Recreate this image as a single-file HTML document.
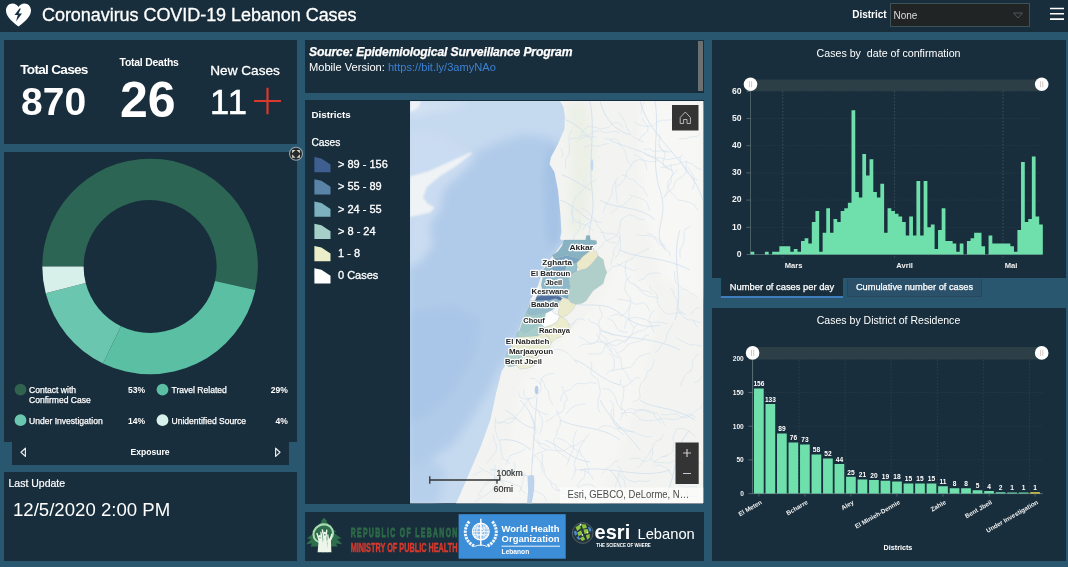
<!DOCTYPE html><html><head><meta charset="utf-8"><title>Coronavirus COVID-19 Lebanon Cases</title><style>

*{box-sizing:border-box;margin:0;padding:0}
html,body{width:1068px;height:567px;overflow:hidden;background:#2a5770;font-family:"Liberation Sans", sans-serif;color:#fff}
.p{position:absolute;background:#192e3c}
.t{position:absolute;white-space:nowrap;line-height:1}
svg{position:absolute;left:0;top:0;overflow:visible}
svg text{font-family:"Liberation Sans", sans-serif}
</style></head><body>
<div class="p" style="left:0px;top:0px;width:1068px;height:32px;"></div>
<div class="p" style="left:4px;top:40px;width:293px;height:104px;"></div>
<div class="p" style="left:4px;top:152px;width:293px;height:290px;"></div>
<div class="p" style="left:12px;top:442px;width:277px;height:22.5px;"></div>
<div class="p" style="left:4px;top:471.5px;width:293px;height:89.0px;"></div>
<div class="p" style="left:304.5px;top:40px;width:399.0px;height:52.5px;"></div>
<div class="p" style="left:304.5px;top:99.5px;width:399.0px;height:404.5px;"></div>
<div class="p" style="left:304.5px;top:512px;width:399.0px;height:48.5px;"></div>
<div class="p" style="left:712px;top:40px;width:353.5px;height:238px;"></div>
<div class="p" style="left:712px;top:307.5px;width:353.5px;height:253.0px;"></div>
<svg width="1068" height="567" viewBox="0 0 1068 567">
<path d="M18.5 26.5 C 10 20, 6 15.5, 6 10.5 C 6 6.3, 9 3.5, 12.5 3.5 C 15 3.5, 17.2 4.8, 18.5 7 C 19.8 4.8, 22 3.5, 24.5 3.5 C 28 3.5, 31 6.3, 31 10.5 C 31 15.5, 27 20, 18.5 26.5 Z" fill="#fff"/>
<path d="M19.5 8.5 L14.5 15 L17.8 15 L16 21.5 L22 13.5 L18.6 13.5 L20.8 8.5 Z" fill="#1a2f3e"/>
<g stroke="#fff" stroke-width="1.6"><path d="M1050 8.5H1064M1050 13.8H1064M1050 19.1H1064"/></g>
</svg>
<div class="t" style="left:42px;top:5.8px;font-size:18px;font-weight:400;color:#fff;-webkit-text-stroke:0.3px #fff;letter-spacing:-0.05px">Coronavirus COVID-19 Lebanon Cases</div>
<div class="t" style="left:852.2px;top:9.9px;font-size:10px;font-weight:700;color:#fff;">District</div>
<div class="p" style="left:889.5px;top:3px;width:140px;height:24px;background:#202425;border:1px solid #3d5158"></div>
<div class="t" style="left:893.5px;top:10.6px;font-size:10px;font-weight:400;color:#dcdcdc;">None</div>
<svg width="1068" height="567" viewBox="0 0 1068 567"><path d="M1013.5 13 L1018 18 L1022.5 13 Z" fill="none" stroke="#4c585d" stroke-width="1"/></svg>
<div class="t" style="left:20.3px;top:63.2px;font-size:13.6px;font-weight:700;color:#fff;letter-spacing:-0.72px">Total Cases</div>
<div class="t" style="left:21px;top:82.2px;font-size:39px;font-weight:700;color:#fff;letter-spacing:0px">870</div>
<div class="t" style="left:119.5px;top:58.4px;font-size:10.4px;font-weight:700;color:#fff;letter-spacing:-0.2px">Total Deaths</div>
<div class="t" style="left:120px;top:74.5px;font-size:50px;font-weight:700;color:#fff;">26</div>
<div class="t" style="left:210.3px;top:64.2px;font-size:13.6px;font-weight:400;color:#fff;-webkit-text-stroke:0.3px #fff">New Cases</div>
<div class="t" style="left:210px;top:84.6px;font-size:34.5px;font-weight:400;color:#fff;-webkit-text-stroke:0.6px #fff;letter-spacing:1.2px">11</div>
<svg width="1068" height="567" viewBox="0 0 1068 567"><path d="M254 101H281M267.5 87.8V114.2" stroke="#d9392d" stroke-width="2.2"/></svg>
<svg width="1068" height="567" viewBox="0 0 1068 567"><path d="M42.30 266.50A107.8 107.8 0 1 1 255.30 290.02L215.00 281.01A66.5 66.5 0 1 0 83.60 266.50Z" fill="#2c6554"/><path d="M255.30 290.02A107.8 107.8 0 0 1 102.98 363.46L121.03 326.31A66.5 66.5 0 0 0 215.00 281.01Z" fill="#5bbfa3"/><path d="M102.98 363.46A107.8 107.8 0 0 1 45.69 293.31L85.69 283.04A66.5 66.5 0 0 0 121.03 326.31Z" fill="#6ac6ae"/><path d="M45.69 293.31A107.8 107.8 0 0 1 42.30 266.50L83.60 266.50A66.5 66.5 0 0 0 85.69 283.04Z" fill="#d8f0ea"/>
<circle cx="20.5" cy="389.6" r="5.9" fill="#31614f"/><circle cx="162.5" cy="389.6" r="5.9" fill="#5bbfa3"/>
<circle cx="20.5" cy="420.2" r="5.9" fill="#6ac6ae"/><circle cx="162.5" cy="420.2" r="5.9" fill="#d8f0ea"/>
<path d="M25.4 448.2V456.4L21 452.3Z M275.6 448.2V456.4L280 452.3Z" fill="none" stroke="#e8e8e8" stroke-width="1.2" stroke-linejoin="round"/>
<circle cx="296" cy="153.8" r="6.5" fill="#26292b" stroke="#93a6b0" stroke-width="1.1"/>
<path d="M292.1 149.9h3.4l-3.4 3.4zM299.9 149.9v3.4l-3.4-3.4zM292.1 157.7v-3.4l3.4 3.4zM299.9 157.7h-3.4l3.4-3.4z" fill="#d9d2c4"/>
</svg>
<div class="t" style="left:29px;top:386.4px;font-size:8.55px;font-weight:400;color:#fff;-webkit-text-stroke:0.25px #fff">Contact with</div>
<div class="t" style="left:29px;top:396.2px;font-size:8.55px;font-weight:400;color:#fff;-webkit-text-stroke:0.25px #fff">Confirmed Case</div>
<div class="t" style="left:145px;top:386.4px;font-size:8.55px;font-weight:700;color:#fff;transform:translateX(-100%);">53%</div>
<div class="t" style="left:171.5px;top:386.4px;font-size:8.55px;font-weight:400;color:#fff;-webkit-text-stroke:0.25px #fff">Travel Related</div>
<div class="t" style="left:287.8px;top:386.4px;font-size:8.55px;font-weight:700;color:#fff;transform:translateX(-100%);">29%</div>
<div class="t" style="left:29px;top:417.3px;font-size:8.55px;font-weight:400;color:#fff;-webkit-text-stroke:0.25px #fff">Under Investigation</div>
<div class="t" style="left:145px;top:417.3px;font-size:8.55px;font-weight:700;color:#fff;transform:translateX(-100%);">14%</div>
<div class="t" style="left:171.5px;top:417.3px;font-size:8.55px;font-weight:400;color:#fff;-webkit-text-stroke:0.25px #fff">Unidentified Source</div>
<div class="t" style="left:287.8px;top:417.3px;font-size:8.55px;font-weight:700;color:#fff;transform:translateX(-100%);">4%</div>
<div class="t" style="left:150px;top:448px;font-size:8.6px;font-weight:700;color:#fff;transform:translateX(-50%);">Exposure</div>
<div class="t" style="left:8.5px;top:478.2px;font-size:10.5px;font-weight:400;color:#fff;-webkit-text-stroke:0.2px #fff">Last Update</div>
<div class="t" style="left:13px;top:501px;font-size:18.6px;font-weight:400;color:#fff;">12/5/2020 2:00 PM</div>
<div class="t" style="left:309px;top:45.6px;font-size:12.15px;font-weight:700;color:#fff;font-style:italic;letter-spacing:-0.15px;-webkit-text-stroke:0.25px #fff">Source: Epidemiological Surveillance Program</div>
<div class="t" style="left:309px;top:61.5px;font-size:11.1px;font-weight:400;color:#fff;">Mobile Version: <span style="color:#3c82d4">https://bit.ly/3amyNAo</span></div>
<div class="p" style="left:697.5px;top:41px;width:5.5px;height:50px;background:#6c7071"></div>
<div class="t" style="left:311.5px;top:109.8px;font-size:9.8px;font-weight:700;color:#fff;">Districts</div>
<div class="t" style="left:311.5px;top:137.8px;font-size:10.2px;font-weight:400;color:#fff;-webkit-text-stroke:0.25px #fff">Cases</div>
<div class="t" style="left:338px;top:159.0px;font-size:11px;font-weight:400;color:#fff;-webkit-text-stroke:0.3px #fff">&gt; 89 - 156</div>
<div class="t" style="left:338px;top:181.25px;font-size:11px;font-weight:400;color:#fff;-webkit-text-stroke:0.3px #fff">&gt; 55 - 89</div>
<div class="t" style="left:338px;top:203.5px;font-size:11px;font-weight:400;color:#fff;-webkit-text-stroke:0.3px #fff">&gt; 24 - 55</div>
<div class="t" style="left:338px;top:225.75px;font-size:11px;font-weight:400;color:#fff;-webkit-text-stroke:0.3px #fff">&gt; 8 - 24</div>
<div class="t" style="left:338px;top:248.0px;font-size:11px;font-weight:400;color:#fff;-webkit-text-stroke:0.3px #fff">1 - 8</div>
<div class="t" style="left:338px;top:270.25px;font-size:11px;font-weight:400;color:#fff;-webkit-text-stroke:0.3px #fff">0 Cases</div>
<svg width="1068" height="567" viewBox="0 0 1068 567"><path d="M314.4 157.0L321.4 158.5L330.5 164.5V172.2H314.4Z" fill="#3f5f90"/><path d="M314.4 179.25L321.4 180.75L330.5 186.75V194.45H314.4Z" fill="#5a83a8"/><path d="M314.4 201.5L321.4 203.0L330.5 209.0V216.7H314.4Z" fill="#7db1bf"/><path d="M314.4 223.75L321.4 225.25L330.5 231.25V238.95H314.4Z" fill="#a6cfc9"/><path d="M314.4 246.0L321.4 247.5L330.5 253.5V261.2H314.4Z" fill="#ebeec8"/><path d="M314.4 268.25L321.4 269.75L330.5 275.75V283.45000000000005H314.4Z" fill="#ffffff"/></svg><svg width="1068" height="567" viewBox="0 0 1068 567"><defs><clipPath id="mc"><rect x="410" y="101" width="293.5" height="402.5"/></clipPath><filter id="bl" x="-10%" y="-10%" width="120%" height="120%"><feGaussianBlur stdDeviation="4"/></filter><filter id="bl3" x="-10%" y="-10%" width="120%" height="120%"><feGaussianBlur stdDeviation="8"/></filter><filter id="bl2" x="-10%" y="-10%" width="120%" height="120%"><feGaussianBlur stdDeviation="0.9"/></filter></defs><g clip-path="url(#mc)">
<rect x="410" y="101" width="293.5" height="402.5" fill="#c5d9ef"/>
<g filter="url(#bl)">
<path d="M473.3 154.4L499.7 142.1L524.4 135.0L549.1 138.6L563.2 145.6L563.2 239.1L556.1 253.2L549.1 267.3L542.0 298.0L532.8 309.0L521.8 327.4L514.4 342.0L507.1 356.7L499.7 367.7L486.9 393.4L470.4 419.1L452.0 444.8L430.0 459.5L408.0 470.5L408.0 219.7L432.7 214.4L436.2 205.6L429.2 200.3L434.5 189.7L446.8 179.1L460.9 166.8Z" fill="#b0cbe9"/>
<path d="M547.3 150.9L563.2 147.4L563.2 239.1L550.9 249.7L547.3 232.0L544.9 203.8L543.8 175.6Z" fill="#a4c2e5"/>
<path d="M408.0 312.7L452.0 305.3L481.4 320.0L474.1 356.7L452.0 393.4L422.7 419.1L408.0 422.8Z" fill="#a9c6e8"/>
<path d="M408.0 225.0L429.2 221.5L432.7 246.1L418.6 263.8L408.0 267.3Z" fill="#c9dcf1"/>
<path d="M408.0 470.5L430.0 459.5L444.7 470.5L437.4 503.5L408.0 503.5Z" fill="#b6cfeb"/>
<path d="M408.0 133.3L429.2 129.7L450.3 140.3L468.0 150.9L475.0 159.7L460.9 173.8L443.3 189.7L439.7 210.9L429.2 225.0L408.0 228.5Z" fill="#cadcf1"/>
</g>
<path d="M410 101H470L455 108L432 112L410 118Z" fill="#d3e2f3" filter="url(#bl)"/>
<path d="M410 101H421L419 107L413 111L410 112Z" fill="#eef3f8" filter="url(#bl2)"/>
<path d="M410 176.5L429.2 171L450.3 161.5L471.5 152L471.8 153.6L456.7 165.7L439.7 176.3L427 186.9L423 197.5L428 204L434.5 207.5L430 212.6L413.3 216.2L410 217Z" fill="#f0f3f5" filter="url(#bl2)"/>
<path d="M560.0 101.0L563.5 107.0L565.0 116.7L564.5 129.0L558.0 144.0L551.0 157.0L549.5 164.0L554.4 172.0L558.0 190.0L560.4 214.4L561.5 232.0L560.0 239.0L564.0 241.0L553.0 256.0L544.1 266.0L541.0 277.0L536.0 291.0L530.0 300.0L527.0 312.0L521.4 322.0L517.0 337.0L509.0 351.0L505.0 366.0L501.6 371.4L499.5 380.0L496.0 393.4L490.6 419.0L481.4 444.8L470.4 470.5L459.4 496.0L456.0 503.5L703.5 503.5L703.5 101.0Z" fill="#f3f4f1"/>
<g filter="url(#bl)" opacity="0.7"><path d="M568 104L586 101L594 150L590 200L580 236L568 232L572 160Z" fill="#e8eee2"/><path d="M520 380L560 340L600 300L620 250L660 300L640 400L600 503L500 503Z" fill="#f7f7f5"/><path d="M640 101H703V300L660 280L640 200Z" fill="#f8f8f7"/></g>
<g fill="none" stroke="#c5d8ec" stroke-width="0.6"><path d="M590 101C596 130 588 160 592 190S586 225 590 245"/><path d="M640 101C650 140 690 160 703 200"/><path d="M610 140C630 150 650 150 670 170"/><path d="M600 330C620 340 650 335 680 350"/><path d="M537 397C535 420 533 450 531 480"/><path d="M560 420C580 430 600 425 620 440"/><path d="M580 470C610 465 640 480 670 470"/><path d="M620 250C640 260 660 255 690 270"/><path d="M575 360C590 365 600 380 620 385"/><path d="M500 440C515 438 525 445 531 450"/><path d="M640 400C655 410 670 405 695 420"/><path d="M600 200C615 210 640 205 655 220"/><path d="M566 120C580 125 585 135 592 140"/><path d="M560 200C575 205 580 215 590 220"/><path d="M562 175C572 178 580 185 591 190"/><path d="M600 101C605 120 615 130 630 135"/><path d="M655 101C660 130 650 160 660 190S650 230 665 250"/><path d="M680 230C670 260 685 290 675 320"/><path d="M560 300C580 310 600 300 615 310S640 330 660 325"/><path d="M520 400C530 410 535 420 534 430"/><path d="M545 440C560 445 570 460 590 462"/><path d="M600 400C610 420 625 430 640 450"/><path d="M690 430C670 450 680 480 660 503"/><path d="M610 470C620 480 625 495 620 503"/><path d="M505 410C515 415 520 425 533 428"/><path d="M490 470C505 468 515 475 530 476"/></g>
<path d="M619.7 132.7L613.5 131.4L608.9 132.3L605.7 133.2L600.8 130.8L595.5 131.3L591.0 133.2L586.9 136.4L582.1 138.2L578.8 139.8M633.8 327.5L631.2 323.9L629.1 320.1L628.9 316.2L629.3 309.7L630.8 303.3L630.1 297.3L627.2 294.8L624.8 289.9L625.4 284.1L626.7 279.5L631.3 275.8M622.8 128.0L620.2 123.4L615.5 122.3L612.4 123.7L609.5 126.9L606.3 128.0L599.8 129.1L595.9 127.5L589.5 126.5L586.0 127.9L582.3 131.4L580.8 135.5M554.9 328.3L561.0 325.9L566.2 325.4L571.0 324.3L576.4 321.3M593.4 479.8L591.6 476.4L588.9 472.9L582.9 470.4L578.2 469.4L574.0 470.4M660.6 167.9L665.5 166.9L672.1 164.9L676.1 164.7L681.5 162.3L685.8 161.8L692.3 163.9L696.9 168.0L701.6 169.6M529.6 378.2L535.4 378.9L537.7 381.4L540.8 384.9L541.4 387.9L539.4 392.9L536.6 395.6L533.1 397.8L528.0 399.2L522.2 398.3L519.4 396.5L518.3 391.4M577.0 363.7L574.4 359.6L571.6 356.9L567.4 353.0L561.8 349.9L557.8 349.4L552.6 350.3L549.3 352.7L545.2 355.5L540.5 355.5L535.4 355.5L531.7 357.8M636.8 324.4L634.2 327.7L632.1 333.0L629.4 338.2L625.2 340.6L620.6 343.1L616.2 345.6L610.4 344.9L607.4 341.5L605.9 338.0L602.6 335.6L599.6 333.2M650.3 459.2L656.1 462.3L662.9 462.7L669.9 463.1L674.2 461.0L677.2 458.5L680.1 456.8L683.0 455.1L687.9 454.3L693.4 457.3M567.1 464.9L568.6 460.1L569.9 456.1L572.3 451.2L573.5 448.1L573.8 444.2L572.9 441.3L574.8 435.2L576.5 430.3M685.8 487.8L687.2 491.8L687.1 496.8L688.9 499.6M596.7 179.0L592.0 182.1L587.2 185.1L582.8 189.6L579.0 194.3L575.6 197.2L574.9 200.4L572.8 203.6L573.0 210.0L572.2 213.9L572.6 217.5L573.2 224.3M693.7 320.6L695.3 324.6L698.7 327.6M657.9 161.0L653.7 161.5L648.6 161.5L642.9 160.1L638.6 159.6L633.2 161.9L630.2 167.7L626.4 172.6L625.5 177.5L621.8 182.5L617.2 186.7M629.5 195.1L635.8 196.8L638.8 197.7L642.6 199.2L645.7 201.2L647.9 205.1L649.6 210.9M664.6 197.0L667.1 192.3L668.2 186.7L671.2 182.1L671.2 178.1L672.6 173.1L671.5 169.3L670.8 163.6M578.8 218.7L580.5 224.8L579.9 228.1L577.8 231.9L574.2 235.1L573.5 240.0L570.7 242.8M637.3 268.8L634.4 270.6L631.0 269.4L625.1 267.6L620.7 265.5L616.6 263.6M493.4 434.5L493.9 439.5L496.3 445.3L496.4 450.8L492.9 455.2L490.5 459.1L486.2 463.0M683.2 154.4L679.6 157.2L675.1 158.2L669.7 159.2L666.4 159.6L661.5 158.0L655.5 157.5L651.6 156.8L647.5 155.7L644.5 153.7M670.2 255.6L669.4 252.4L666.0 249.4L663.4 243.7L660.2 241.2L656.0 237.8L652.6 235.2L647.1 232.9M578.9 336.5L584.4 339.4L588.4 342.7L592.0 343.9L597.9 341.7L604.4 342.1L607.0 343.8L609.7 347.0L611.4 351.9L613.9 355.0L618.2 357.9M530.0 417.0L533.1 419.8L534.7 424.5L535.7 428.9L536.0 432.7L533.8 435.7L533.6 440.2L533.4 446.0L534.2 449.0M537.2 438.7L539.2 444.2L542.1 448.1L548.4 450.2L552.3 450.1L558.9 450.8L562.7 451.2L565.6 449.9L571.1 446.2L577.9 444.5L581.2 441.2L584.3 440.4M550.8 482.4L555.8 484.8L557.5 489.8L561.8 492.6L567.3 494.3L570.7 497.1L574.9 499.1L577.0 501.9M689.4 121.3L691.6 116.3L695.7 111.1L696.3 107.7L698.2 102.1M539.8 378.1L543.0 381.0L544.5 384.4L544.9 387.6L548.5 390.7L549.2 397.6L550.5 400.7L552.9 405.1M612.7 370.9L614.2 367.1L614.4 363.1L614.3 359.1L612.1 355.6L608.9 353.3M591.1 361.3L591.9 366.0L590.7 372.5L592.5 375.7L597.8 379.1L599.0 385.3L600.4 391.0L599.5 396.2L597.9 400.2L598.1 404.2L597.7 408.0L600.1 412.7M516.8 418.9L510.7 418.0L505.8 419.7L502.1 422.7L497.6 423.4M654.5 359.2L653.1 365.1L650.9 369.4L647.1 371.7L646.0 377.1L643.6 381.0L640.7 383.9L639.2 390.3L640.3 396.3L638.8 399.6L632.9 402.1M482.3 470.8L476.7 473.4L473.1 475.1M504.4 488.4L503.2 482.5L498.3 480.3L494.8 476.2L490.8 473.4L485.8 471.3L482.9 469.3L479.2 467.2M649.4 285.5L651.2 289.2L655.5 292.8L657.2 295.8L657.0 301.7L660.1 307.3L662.1 310.2L666.5 313.6L670.1 314.2L676.2 312.8L682.0 313.0L686.8 315.0M544.5 347.0L546.8 341.0L547.0 336.0L546.5 332.3L542.3 327.8L541.9 321.7L538.8 317.3L534.0 313.8M698.4 353.4L694.6 357.8L692.3 362.3L692.8 365.5L691.3 370.6L686.6 373.4L684.5 375.6L682.9 380.1L680.8 383.5L681.2 386.6M632.7 282.5L636.4 286.2L639.0 289.3L642.4 292.8L648.0 296.1L654.4 296.9L658.8 298.1M686.4 160.3L686.0 164.5L686.5 171.0L685.1 174.0L681.1 177.6L676.9 179.5L675.0 182.3L673.4 187.8L669.4 190.8L665.9 194.9L662.8 198.5M692.0 189.9L694.3 184.0L694.1 177.3L691.9 172.6L688.0 167.3M695.8 437.2L691.4 433.1L686.6 430.0L682.9 428.2L676.5 429.0L674.4 434.3L672.8 437.1L673.9 442.6L673.5 445.8L672.5 451.9L668.5 454.5L662.4 457.2M665.0 425.6L662.5 421.1L660.3 417.4L656.9 413.2L650.9 412.8L646.0 410.8L640.0 410.0L635.6 411.7L633.0 414.6M634.3 431.8L631.3 431.8L624.9 430.7L620.2 428.5L615.3 428.9L611.5 426.3L607.7 425.9L604.2 425.4L598.9 428.2M651.0 352.7L644.7 354.5L639.6 356.3L636.0 359.6L633.2 364.6L630.2 367.4L624.9 368.2L619.9 369.2L614.8 370.1L609.3 371.2L605.8 374.6M630.2 305.1L627.4 310.4L625.0 313.8L621.3 316.2L617.8 314.4L614.2 314.7L610.3 316.3M495.1 464.9L494.7 471.3L494.5 478.2L495.2 482.1L494.9 486.1L491.6 490.5L487.0 494.4L481.5 497.4L478.0 498.9L475.3 502.2M562.0 386.2L563.8 391.5L566.9 396.9L567.1 399.9L564.3 403.0L564.0 408.9L561.5 412.2L557.0 413.6L554.2 416.0L550.5 419.3L545.0 421.6M588.2 473.3L588.4 468.8L586.7 463.2L584.6 458.2L581.3 455.4L579.3 448.7L581.0 445.3L583.7 441.7L586.5 436.7L589.5 433.5M661.1 418.9L655.6 420.0L649.6 420.9L643.8 420.5L639.1 418.6L635.8 414.8L631.5 412.3L624.9 412.6L620.7 413.9M599.9 232.6L602.9 232.1L607.9 233.8L611.5 233.4L615.7 234.5L619.7 237.2L620.6 243.3L620.2 249.4L618.3 254.3L615.0 258.3M673.0 323.8L670.5 328.3L667.1 333.3L666.5 338.6L664.8 342.4L661.3 345.3L658.1 350.6L655.1 353.1M618.7 112.1L621.2 115.4L622.9 118.8L624.9 121.6L626.6 127.2L628.6 131.2L630.6 133.9L633.9 137.3L639.9 140.5L643.6 141.9M634.0 154.5L637.1 155.8L640.8 158.1L643.5 159.8L646.1 164.8L646.7 170.2M611.8 352.2L608.0 348.6L606.8 345.2L601.6 341.7L598.4 337.3L596.3 333.6M617.6 473.8L621.9 477.2L624.1 480.0L625.4 486.8L625.5 492.9M596.2 136.8L591.5 136.8L584.8 135.3L581.3 136.1L576.6 138.2L570.0 138.8M644.7 220.1L638.2 218.9L634.8 216.4L629.5 214.7L625.4 216.5L620.8 220.0L620.1 225.2L619.5 228.7L617.4 233.6L614.4 237.1L608.4 240.0L604.6 241.2M694.0 382.5L699.0 380.8L702.1 376.2M556.5 409.5L557.7 413.2L560.3 418.7L560.2 425.0L557.3 429.7L556.3 435.9L553.7 439.9L554.5 446.0L557.9 451.6L562.3 454.9L565.6 457.0L569.4 460.8M647.6 196.2L645.0 192.0L643.5 188.5L639.2 185.6L636.0 181.9L633.0 179.8L629.6 179.0L626.5 176.2L621.6 175.2M477.7 496.2L480.6 491.8L482.4 487.7L485.8 484.9L489.7 482.1L492.3 480.4L496.5 476.9L502.8 475.1L509.5 474.6L512.9 472.2L515.0 467.4L514.3 462.9M524.1 389.4L523.7 394.6L527.1 398.0L530.0 403.3L531.7 407.0L535.3 409.0L539.6 411.5L543.6 413.4L548.0 414.6M655.7 466.1L659.3 464.9L663.0 466.4L667.9 468.8L670.6 473.0L672.8 477.3L676.6 481.2L678.3 484.7L683.5 487.1L689.9 487.0L693.5 486.5L697.6 487.7M582.9 230.0L585.3 225.0L590.4 221.7L593.8 220.4L598.1 222.1L602.0 222.4M565.6 168.2L565.7 163.5L565.9 158.7L568.7 154.9L569.5 150.4L569.2 144.1L569.0 140.4L569.7 133.8L572.1 130.5M614.5 180.1L616.0 184.6L615.8 190.8L616.8 197.2L617.3 203.7M579.6 449.3L578.3 452.4L575.9 458.1L574.1 464.8L575.5 468.5L574.6 474.6L571.4 479.8M638.1 280.8L644.1 278.9L646.1 275.6L648.8 274.0L652.5 273.3L657.8 272.8L661.1 274.0M634.9 121.9L638.7 124.6L644.8 126.4L648.7 126.3L653.3 125.8L657.4 121.9L661.8 120.1L665.0 120.3L671.4 119.8L676.2 122.4L680.8 123.2L684.3 122.6M551.3 448.7L547.8 446.3L544.1 444.2L537.5 442.8L533.8 438.1M673.4 454.3L677.2 458.3L678.3 461.5L680.6 464.0L684.1 464.3L687.0 461.5L693.5 462.1L700.0 463.6M602.8 212.5L604.8 207.7L607.0 202.8L609.7 198.2L611.7 194.7L612.3 190.2L612.9 185.9L615.6 182.0L618.3 176.8M538.0 409.8L539.8 414.9L542.3 419.0L542.4 425.9L541.0 430.5L539.5 433.9M610.5 213.6L615.1 209.8L619.8 206.0L623.3 205.1L627.4 201.2L632.0 197.3M566.1 414.3L568.8 410.4L572.2 407.6L576.0 405.2L582.3 404.4L585.9 403.3M603.8 138.8L609.1 139.4L616.0 138.8L618.6 141.0L620.5 145.5L624.2 149.1L625.8 153.6L626.8 159.0L627.9 162.1L631.2 165.7M619.2 471.7L618.9 476.4L617.4 480.7L615.7 484.2L615.7 490.5L615.6 497.1M674.3 270.7L674.8 277.2L675.7 282.2L679.5 286.0L682.3 288.7L687.8 290.6L690.5 293.3L693.5 294.3L697.7 298.2M676.0 307.7L678.5 310.2L679.9 313.3L683.8 317.3L688.0 319.7L694.0 320.4L698.0 322.0L701.3 322.9M603.9 242.2L601.8 246.0L599.2 247.9L597.0 250.9L594.6 253.2L590.1 254.8L585.1 259.2L583.6 264.7L581.8 269.0L579.9 274.0L579.5 278.5M547.1 449.1L542.7 451.6L538.4 453.1L534.3 455.2L532.0 458.9L532.5 464.0M651.1 323.8L647.7 327.5L643.2 330.4L638.3 331.3L635.0 332.9L629.6 336.1L626.9 340.0L624.6 343.3M588.0 318.9L591.0 322.0L596.4 324.0L599.3 326.5L600.2 332.9L599.3 336.7L597.8 340.4L594.2 343.1L589.5 344.2L583.0 344.2L579.0 347.0M628.9 459.2L635.2 458.3L638.9 458.3L643.9 461.4L647.1 461.1L650.8 459.0L652.5 453.9L652.4 448.6L653.5 444.1L655.7 441.5L660.9 439.3L663.2 434.2M495.6 417.4L495.2 423.2L495.5 429.5L496.7 435.8L499.7 441.0L500.5 446.5L501.2 452.1L502.6 458.6L507.0 460.7L510.2 464.2M595.7 487.9L592.9 485.7L589.3 484.1L583.5 484.8L580.0 487.1L574.3 489.5L570.0 492.2L566.8 496.4L562.2 498.8M623.3 341.1L619.9 340.2L616.1 340.1L612.5 341.7L609.2 343.2L605.1 344.6L603.5 350.5L600.8 354.0L595.6 353.9L590.8 353.9L587.8 353.5M618.2 352.6L621.5 351.4L624.5 348.7L627.9 344.3L633.0 342.7L637.2 341.7L642.4 340.2L645.1 335.8L649.0 335.0M494.7 421.9L501.4 422.3L505.0 422.6L508.3 423.6L512.9 421.7L514.9 418.1L516.6 415.2L521.0 410.7L523.5 406.2L526.4 402.8L529.5 397.5M677.9 169.1L674.2 173.1L671.0 177.1L668.2 181.7L667.8 187.1L670.8 192.3L674.6 196.2L677.9 199.9L684.3 201.0L690.1 202.6L694.4 205.0L697.9 210.1M571.5 207.4L571.8 213.8L573.2 218.5L576.6 222.2L581.4 223.7L586.3 225.1L589.4 226.5L593.0 230.8M644.1 149.4L649.8 148.8L653.0 151.3L657.5 151.2L660.7 150.6L667.4 151.2M679.0 138.7L685.6 138.8L691.0 136.9L696.7 136.4L700.4 133.1M608.9 143.5L602.6 144.8L597.7 146.4L593.0 145.6L589.7 145.1L583.4 147.5M624.0 435.1L619.3 431.6L618.3 427.4L614.6 423.0L613.4 419.6L613.6 415.0L613.7 408.7L612.8 403.3L609.9 400.4M675.6 337.3L680.1 340.2L685.3 342.9L689.8 344.5L696.2 345.1L701.9 346.0M552.1 331.1L551.0 326.2L551.2 320.1L552.4 315.7L551.8 309.3L554.6 305.6L559.3 302.5M616.1 242.8L610.3 242.3L605.3 239.3L602.9 232.9L600.0 228.7L597.2 225.1L595.5 219.9L591.4 217.0L587.9 211.6L584.4 209.5L580.5 207.7M577.6 488.3L578.0 484.7L581.2 479.9L584.1 477.8L585.1 471.4L584.5 468.0M602.4 388.7L608.8 389.2L611.8 391.9L614.8 395.8L616.0 398.9L617.3 404.0L620.3 408.3L624.4 409.9L626.4 416.4M636.6 234.3L641.6 235.5L646.0 235.4L652.3 236.3L655.6 239.4L658.5 243.7L663.7 246.0M596.4 383.7L590.2 382.3L585.5 383.9L581.0 383.2L575.2 384.1L573.2 386.7L570.1 389.7L565.8 390.9L561.6 395.5L560.6 401.3M525.8 493.0L521.9 491.0L520.1 486.4L514.2 484.5L510.4 482.5L504.1 481.0L498.7 479.3L492.9 479.7L488.8 481.1L483.5 484.0M695.7 417.2L692.6 415.2L689.6 415.7L685.7 418.0L681.9 417.3L676.7 414.0L670.6 414.1L667.0 415.0L660.9 414.5M679.9 156.8L680.8 162.4L683.9 167.0L687.1 173.1L690.7 175.6L693.1 178.7L697.6 179.7M672.1 151.7L669.1 151.9L663.5 151.8L659.6 147.7L658.9 141.0L660.7 137.2L658.8 134.3M531.9 486.7L534.2 490.6L539.5 492.9L544.1 495.6L546.7 501.0M566.4 489.3L560.3 490.4L556.3 490.4L551.9 486.6L550.7 481.0L546.9 478.7L544.9 474.1L543.9 468.5L542.5 463.8L542.3 459.4L542.3 453.1M652.0 448.3L649.5 453.0L646.6 457.0L643.7 460.8L640.6 465.1L636.9 468.5M683.3 313.4L680.0 311.3L677.5 306.5L677.1 300.1L674.1 295.3L673.2 291.8L671.2 288.2M654.7 310.5L651.3 313.2L649.1 318.6L649.3 321.6L651.9 326.4L653.8 332.2M528.2 324.3L531.2 320.9L533.8 317.7L536.8 315.2L540.6 315.4L545.5 317.4L550.2 316.5L554.3 317.0L560.3 318.4M558.6 333.2L564.9 334.2L568.4 331.6L571.0 327.8L573.9 322.7L576.5 319.3L582.3 318.8L585.3 320.6M561.5 157.6L563.0 153.1L560.8 148.3M658.0 144.3L660.6 147.7L663.5 150.3L665.2 155.3L663.1 161.4L663.8 166.4L669.0 169.1L673.0 170.6M667.5 324.1L663.5 322.8L658.8 322.0L655.3 322.4L648.6 321.9L645.3 319.4L640.6 318.4L635.1 317.2L628.5 318.5L625.9 322.1L624.8 328.7M610.5 264.8L611.7 260.4L613.5 255.0L613.4 251.3L616.2 246.1L619.3 241.3L620.4 235.2L619.0 231.5M650.4 480.5L645.8 481.7L639.3 480.8L634.6 482.0L628.7 480.2L625.3 477.8L622.3 473.5L620.0 468.0L617.1 465.4M620.6 378.9L620.6 384.6L623.9 387.6L623.6 394.3L623.2 398.7L621.2 404.8L621.8 411.2M607.5 318.1L612.8 321.1L615.3 324.8L616.5 327.6L619.1 330.5L623.3 332.0L627.8 332.2M661.4 424.4L657.9 419.8L655.2 417.2L653.3 412.5L648.6 410.5L643.2 409.4L636.5 410.1L630.3 408.6L627.0 409.7L623.2 413.0L621.7 416.5L619.8 420.7M525.2 449.1L519.9 452.2L514.8 453.7L509.9 455.8L508.2 459.6L505.7 464.9M523.8 339.7L525.8 336.3L526.2 330.2L524.8 327.1M543.0 472.8L541.7 467.2L541.3 462.9L539.2 459.7L534.1 455.0M652.1 294.0L647.0 291.1L641.5 290.2L638.6 287.2L635.1 285.0L630.1 283.1L626.6 277.5L625.3 271.4L625.0 265.1L627.0 261.1M691.0 314.5L694.6 309.5L699.9 307.3M602.3 473.6L606.3 468.9L611.9 465.4L614.5 461.7L618.7 460.4M662.3 418.0L669.1 419.1L673.6 419.7L678.5 418.6L682.8 417.0L687.9 414.5L692.5 413.6L695.8 410.7L700.7 407.6L702.8 404.6M690.9 226.2L685.4 228.9L683.9 232.2L684.5 237.8L683.2 244.6L680.1 249.4L679.9 253.5L680.3 257.8M540.2 384.9L541.1 380.5L543.5 376.2L548.1 374.0L554.6 373.3M642.5 117.9L643.9 121.9L648.0 125.9L647.8 131.2L644.2 134.2L641.4 136.6L638.7 140.4M617.1 299.2L621.2 299.6L627.3 300.9L630.9 300.9L634.0 303.9L638.3 304.1L642.7 302.6L646.1 304.4L648.0 308.1L649.9 311.4M560.6 256.7L565.4 252.8L568.7 250.3L571.8 249.4L577.4 248.3L580.6 247.0L585.2 247.1L588.2 249.4L593.3 248.3M540.3 342.4L534.2 343.6L528.0 344.8L521.3 344.5L515.8 346.5M651.6 436.3L647.3 437.1L642.5 435.5L636.9 433.6L633.8 432.1L627.7 430.2L623.5 428.0L617.2 427.2L614.2 424.0L611.4 418.6L611.0 412.3L612.0 408.8M631.9 382.7L628.7 378.1L625.8 372.5L622.6 368.9L621.6 365.9L620.8 359.3L617.8 354.5L614.5 349.3L611.5 346.8M593.7 289.2L589.4 288.8L585.5 287.7L579.4 289.2L576.3 290.3L572.9 293.8L572.3 299.6L571.2 304.5L569.8 310.6M602.4 274.8L606.8 272.8L609.6 269.8L612.2 266.7L618.1 265.9L623.3 262.6L627.4 260.3L632.2 258.8L635.7 254.7L641.0 252.2L646.0 250.0L649.4 247.9M640.1 377.8L635.2 378.0L632.3 381.6L626.8 385.6L622.1 387.2M599.6 305.1L599.8 308.9L602.0 313.7L601.7 317.3L599.1 320.3L598.8 325.4L602.4 331.0L608.1 332.4L614.0 335.4M547.8 325.6L545.6 329.1L542.4 331.7L537.8 330.5L533.9 325.6L531.8 320.2L532.3 314.6L536.3 309.9M578.0 452.7L576.2 449.7L571.8 446.7L567.1 442.5L563.5 440.0L557.0 437.9M525.3 472.6L523.1 478.7L522.8 481.7L521.3 488.0L518.8 492.6M674.6 466.9L680.9 467.3L686.1 468.9L689.1 467.2L692.8 465.5M641.3 113.5L641.9 107.6L644.2 102.5M672.7 493.5L678.5 494.5L684.8 497.1L688.0 496.3L693.4 496.3L698.0 496.1M653.2 465.5L655.7 460.8L658.7 458.9L661.9 456.7L668.1 455.9" fill="none" stroke="#cfdfee" stroke-width="0.55" stroke-linejoin="round"/>
<ellipse cx="536.6" cy="390" rx="1.8" ry="4.3" fill="#b4cdea"/><path d="M527.5 476.5Q531 474 534 475.5Q535.5 488 531.5 503.5H527Q529 490 527.5 476.5Z" fill="#bdd3eb"/><ellipse cx="592" cy="165" rx="1.3" ry="6" fill="#c3d7ee"/>
<g opacity="0.88">
<path d="M563.7 239.9L585.6 239.9L586.3 235.6L589.8 235.6L590.5 239.9L596.2 240.6L596.9 243.4L593.3 245.5L593.3 249.7L589.8 251.2L583.5 256.1L580.6 258.9L576.4 257.5L566.5 255.4L560.9 256.8L553.9 258.2L552.4 255.4L558.1 251.2L562.3 245.5Z" fill="#78a9ba" stroke="#8fa3a8" stroke-width="0.25"/>
<path d="M589.8 251.2L593.3 249.7L596.9 252.6L598.3 256.1L594.8 260.3L590.5 265.3L586.3 268.8L580.6 270.2L577.1 267.4L576.4 263.1L580.6 258.9L583.5 256.1Z" fill="#ece8c6" stroke="#8fa3a8" stroke-width="0.25"/>
<path d="M598.3 256.1L603.2 259.6L604.6 266.7L606.7 272.3L604.6 278.0L603.2 283.6L599.0 286.4L593.3 290.6L589.1 296.3L586.3 300.5L582.1 303.3L575.7 304.0L570.8 302.6L568.0 299.1L568.0 292.1L570.1 286.4L568.7 279.4L570.8 273.7L576.4 270.9L580.6 270.2L586.3 268.8L590.5 265.3L594.8 260.3Z" fill="#a7cbc6" stroke="#8fa3a8" stroke-width="0.25"/>
<path d="M553.9 258.2L560.9 256.8L566.5 255.4L576.4 257.5L580.6 258.9L576.4 263.1L577.1 267.4L576.4 270.9L570.8 273.7L562.3 272.3L555.3 270.9L548.2 269.5L545.4 266.7L549.6 261.7Z" fill="#6a9aba" stroke="#8fa3a8" stroke-width="0.25"/>
<path d="M566.5 263.9L576.4 263.1L577.1 267.4L576.4 270.9L570.8 273.7L565.1 271.6Z" fill="#8cbcc6" stroke="#8fa3a8" stroke-width="0.25"/>
<path d="M545.4 266.7L548.2 269.5L562.3 272.3L570.8 273.7L568.7 279.4L570.1 286.4L568.0 292.1L555.3 292.1L542.6 290.6L541.2 285.0L542.6 278.0L541.2 272.3Z" fill="#7fb0c4" stroke="#8fa3a8" stroke-width="0.25"/>
<path d="M542.6 290.6L568.0 292.1L568.0 299.1L559.5 296.3L548.2 295.6L536.9 296.3L538.3 292.8Z" fill="#6e9ebc" stroke="#8fa3a8" stroke-width="0.25"/>
<path d="M536.9 296.3L548.2 295.6L559.5 296.3L562.3 298.4L560.9 300.5L552.4 301.2L541.2 301.2L534.8 301.2Z" fill="#3a5c94" stroke="#8fa3a8" stroke-width="0.25"/>
<path d="M562.3 298.4L568.0 299.1L570.8 302.6L575.7 304.0L573.6 309.0L568.0 314.6L562.3 317.4L558.1 314.6L559.5 303.3L560.9 300.5Z" fill="#ebe9c8" stroke="#8fa3a8" stroke-width="0.25"/>
<path d="M530.3 300.6L540.1 300.6L548.6 300.6L555.6 298.5L559.9 300.6L557.1 306.3L551.4 310.5L545.8 313.3L537.3 314.7L528.9 315.5L526.7 311.9L528.9 306.3Z" fill="#86b4c5" stroke="#8fa3a8" stroke-width="0.25"/>
<path d="M526.7 311.9L528.9 315.5L537.3 314.7L545.8 313.3L544.4 319.0L540.1 323.2L534.5 327.4L528.9 331.7L523.2 333.1L519.7 330.3L521.8 323.2L523.9 317.6Z" fill="#93c3c3" stroke="#8fa3a8" stroke-width="0.25"/>
<path d="M551.4 310.5L554.2 313.3L559.9 316.2L557.1 321.8L551.4 325.3L544.4 327.4L540.1 323.2L544.4 319.0L545.8 313.3Z" fill="#ffffff" stroke="#8fa3a8" stroke-width="0.25"/>
<path d="M559.9 316.2L565.5 319.0L569.8 324.6L568.3 331.7L562.7 335.9L555.6 338.7L551.4 343.0L548.6 337.3L544.4 333.1L544.4 327.4L551.4 325.3L557.1 321.8Z" fill="#ecebcb" stroke="#8fa3a8" stroke-width="0.25"/>
<path d="M519.7 330.3L523.2 333.1L528.9 331.7L534.5 327.4L540.1 323.2L544.4 327.4L544.4 333.1L537.3 335.9L530.3 337.3L523.2 337.3L516.2 337.3L516.9 333.1Z" fill="#9ec9c6" stroke="#8fa3a8" stroke-width="0.25"/>
<path d="M516.2 337.3L537.3 335.9L544.4 333.1L548.6 337.3L551.4 343.0L548.6 348.6L543.0 354.2L537.3 357.1L530.3 357.1L523.2 355.6L516.2 352.8L511.9 348.6L513.3 343.0Z" fill="#e6ebcd" stroke="#8fa3a8" stroke-width="0.25"/>
<path d="M507.7 351.4L511.9 348.6L516.2 352.8L523.2 355.6L521.8 361.3L516.2 365.5L509.1 366.9L504.9 364.1L505.6 357.1Z" fill="#a5cdc8" stroke="#8fa3a8" stroke-width="0.25"/>
<path d="M523.2 355.6L530.3 357.1L537.3 357.1L540.1 361.3L534.5 365.5L527.4 368.3L520.4 369.0L516.2 365.5L521.8 361.3Z" fill="#e9ecd0" stroke="#8fa3a8" stroke-width="0.25"/>
</g>
<g font-family='"DejaVu Sans", "Liberation Sans", sans-serif' font-weight="700" font-size="7.3" text-anchor="middle" fill="#1a1a1a" stroke="#fff" stroke-width="2.4" stroke-linejoin="round" paint-order="stroke" opacity="0.95">
<text x="581.2" y="249.5" textLength="23.6" lengthAdjust="spacingAndGlyphs">Akkar</text>
<text x="557.2" y="265.0" textLength="29.7" lengthAdjust="spacingAndGlyphs">Zgharta</text>
<text x="550.5" y="275.9" textLength="39.4" lengthAdjust="spacingAndGlyphs">El Batroun</text>
<text x="553.7" y="284.5" textLength="17" lengthAdjust="spacingAndGlyphs">Jbeil</text>
<text x="550" y="293.59999999999997" textLength="36.9" lengthAdjust="spacingAndGlyphs">Kesrwane</text>
<text x="544.6" y="307.09999999999997" textLength="27.3" lengthAdjust="spacingAndGlyphs">Baabda</text>
<text x="534" y="322.59999999999997" textLength="21.3" lengthAdjust="spacingAndGlyphs">Chouf</text>
<text x="554.5" y="333.09999999999997" textLength="31.1" lengthAdjust="spacingAndGlyphs">Rachaya</text>
<text x="527.6" y="343.9" textLength="43.5" lengthAdjust="spacingAndGlyphs">El Nabatieh</text>
<text x="531.1" y="354.0" textLength="44.2" lengthAdjust="spacingAndGlyphs">Marjaayoun</text>
<text x="523.5" y="364.09999999999997" textLength="36.9" lengthAdjust="spacingAndGlyphs">Bent Jbeil</text>
</g>
<rect x="560" y="487.5" width="143.5" height="16" fill="#fff" opacity="0.6"/>
<text x="567.6" y="498.4" font-size="10.4" fill="#4a4a4a" font-family='"Liberation Sans", sans-serif' textLength="121.5" lengthAdjust="spacingAndGlyphs">Esri, GEBCO, DeLorme, N…</text>
<path d="M429.8 476.3V483.7M429.8 480H499.8M499.8 476.3V480.6M497 480V483.7" stroke="#333" stroke-width="1.3" fill="none"/>
<g font-size="8.8" fill="#333" stroke="#333" stroke-width="0.2" font-family='"Liberation Sans", sans-serif'><text x="496.6" y="476.2" textLength="26" lengthAdjust="spacingAndGlyphs">100km</text><text x="493.4" y="491.8" textLength="19.5" lengthAdjust="spacingAndGlyphs">60mi</text></g>
</g>
<rect x="672" y="105" width="26.5" height="25.5" fill="#343434"/>
<path d="M680.2 117.5L685.3 112L690.4 117.5V123.5H687V119.5H683.6V123.5H680.2Z" fill="none" stroke="#c4c4c4" stroke-width="0.9"/>
<rect x="675.5" y="442.5" width="23.2" height="41.5" fill="#343434"/>
<path d="M683 453H691M687 449V457M683 473.5H691" stroke="#c8c8c8" stroke-width="1.2"/>
</svg><svg width="1068" height="567" viewBox="0 0 1068 567">
<rect x="750.5" y="79.5" width="291.5" height="11.5" fill="#2c3f47"/>
<path d="M750.5 254.5H1042" stroke="#3a4d55" stroke-width="0.6" stroke-dasharray="1.5 1.5" opacity="0.6"/>
<path d="M746.5 254.5H750.5" stroke="#5d7078" stroke-width="0.8"/>
<path d="M750.5 227.3H1042" stroke="#3a4d55" stroke-width="0.6" stroke-dasharray="1.5 1.5" opacity="0.6"/>
<path d="M746.5 227.3H750.5" stroke="#5d7078" stroke-width="0.8"/>
<path d="M750.5 200.1H1042" stroke="#3a4d55" stroke-width="0.6" stroke-dasharray="1.5 1.5" opacity="0.6"/>
<path d="M746.5 200.1H750.5" stroke="#5d7078" stroke-width="0.8"/>
<path d="M750.5 172.9H1042" stroke="#3a4d55" stroke-width="0.6" stroke-dasharray="1.5 1.5" opacity="0.6"/>
<path d="M746.5 172.9H750.5" stroke="#5d7078" stroke-width="0.8"/>
<path d="M750.5 145.7H1042" stroke="#3a4d55" stroke-width="0.6" stroke-dasharray="1.5 1.5" opacity="0.6"/>
<path d="M746.5 145.7H750.5" stroke="#5d7078" stroke-width="0.8"/>
<path d="M750.5 118.5H1042" stroke="#3a4d55" stroke-width="0.6" stroke-dasharray="1.5 1.5" opacity="0.6"/>
<path d="M746.5 118.5H750.5" stroke="#5d7078" stroke-width="0.8"/>
<path d="M750.5 91.3H1042" stroke="#3a4d55" stroke-width="0.6" stroke-dasharray="1.5 1.5" opacity="0.6"/>
<path d="M746.5 91.3H750.5" stroke="#5d7078" stroke-width="0.8"/>
<path d="M782.8 91V257.5" stroke="#4f646d" stroke-width="0.8" stroke-dasharray="1.5 1.8" opacity="0.8"/>
<path d="M894.6 91V257.5" stroke="#4f646d" stroke-width="0.8" stroke-dasharray="1.5 1.8" opacity="0.8"/>
<path d="M1003 91V257.5" stroke="#4f646d" stroke-width="0.8" stroke-dasharray="1.5 1.8" opacity="0.8"/>
<path d="M750.5 91V254.5H1042.5" stroke="#56696f" stroke-width="0.8" fill="none"/>
<path d="M750.50 254.5V251.8H754.26V254.5ZM764.93 254.5V251.8H768.68V254.5ZM772.14 254.5V251.8H775.90V254.5ZM775.75 254.5V251.8H779.51V254.5ZM779.36 254.5V246.3H783.11V254.5ZM782.96 254.5V246.3H786.72V254.5ZM786.57 254.5V246.3H790.33V254.5ZM790.18 254.5V251.8H793.93V254.5ZM793.78 254.5V249.1H797.54V254.5ZM797.39 254.5V251.8H801.15V254.5ZM801.00 254.5V240.9H804.75V254.5ZM804.61 254.5V238.2H808.36V254.5ZM808.21 254.5V243.6H811.97V254.5ZM811.82 254.5V221.9H815.58V254.5ZM815.43 254.5V211.0H819.18V254.5ZM819.03 254.5V251.8H822.79V254.5ZM822.64 254.5V232.7H826.40V254.5ZM826.25 254.5V208.3H830.00V254.5ZM829.85 254.5V232.7H833.61V254.5ZM833.46 254.5V219.1H837.22V254.5ZM837.07 254.5V221.9H840.82V254.5ZM840.67 254.5V211.0H844.43V254.5ZM844.28 254.5V208.3H848.04V254.5ZM847.89 254.5V202.8H851.65V254.5ZM851.50 254.5V110.3H855.25V254.5ZM855.10 254.5V191.9H858.86V254.5ZM858.71 254.5V197.4H862.47V254.5ZM862.32 254.5V153.9H866.07V254.5ZM865.92 254.5V175.6H869.68V254.5ZM869.53 254.5V159.3H873.29V254.5ZM873.14 254.5V191.9H876.89V254.5ZM876.75 254.5V197.4H880.50V254.5ZM880.35 254.5V183.8H884.11V254.5ZM883.96 254.5V232.7H887.72V254.5ZM887.57 254.5V208.3H891.32V254.5ZM891.17 254.5V211.0H894.93V254.5ZM894.78 254.5V213.7H898.54V254.5ZM898.39 254.5V216.4H902.14V254.5ZM901.99 254.5V221.9H905.75V254.5ZM905.60 254.5V235.5H909.36V254.5ZM909.21 254.5V216.4H912.96V254.5ZM912.82 254.5V235.5H916.57V254.5ZM916.42 254.5V181.1H920.18V254.5ZM920.03 254.5V235.5H923.79V254.5ZM923.64 254.5V181.1H927.39V254.5ZM927.24 254.5V227.3H931.00V254.5ZM930.85 254.5V224.6H934.61V254.5ZM934.46 254.5V249.1H938.21V254.5ZM938.06 254.5V230.0H941.82V254.5ZM941.67 254.5V208.3H945.43V254.5ZM945.28 254.5V240.9H949.03V254.5ZM948.88 254.5V240.9H952.64V254.5ZM952.49 254.5V243.6H956.25V254.5ZM956.10 254.5V251.8H959.86V254.5ZM959.71 254.5V243.6H963.46V254.5ZM966.92 254.5V240.9H970.68V254.5ZM970.53 254.5V238.2H974.28V254.5ZM974.13 254.5V232.7H977.89V254.5ZM977.74 254.5V232.7H981.50V254.5ZM981.35 254.5V246.3H985.10V254.5ZM988.56 254.5V235.5H992.32V254.5ZM992.17 254.5V243.6H995.93V254.5ZM995.78 254.5V243.6H999.53V254.5ZM999.38 254.5V243.6H1003.14V254.5ZM1002.99 254.5V243.6H1006.75V254.5ZM1006.60 254.5V243.6H1010.35V254.5ZM1010.20 254.5V246.3H1013.96V254.5ZM1013.81 254.5V251.8H1017.57V254.5ZM1017.42 254.5V230.0H1021.17V254.5ZM1021.03 254.5V162.0H1024.78V254.5ZM1024.63 254.5V221.9H1028.39V254.5ZM1028.24 254.5V219.1H1032.00V254.5ZM1031.85 254.5V156.6H1035.60V254.5ZM1035.45 254.5V216.4H1039.21V254.5ZM1039.06 254.5V224.6H1042.82V254.5Z" fill="#6fe0ac"/>
<g font-size="8.6" font-weight="700" fill="#f2f2f2" text-anchor="end" font-family='"Liberation Sans", sans-serif'>
<text x="741.5" y="256.8">0</text>
<text x="741.5" y="229.6">10</text>
<text x="741.5" y="202.4">20</text>
<text x="741.5" y="175.2">30</text>
<text x="741.5" y="148.0">40</text>
<text x="741.5" y="120.8">50</text>
<text x="741.5" y="93.6">60</text>
</g>
<g font-size="7.6" font-weight="700" fill="#f2f2f2" text-anchor="middle" font-family='"Liberation Sans", sans-serif'><text x="793.6" y="268.2">Mars</text><text x="904.6" y="268.2">Avril</text><text x="1011" y="268.2">Mai</text></g>
<text x="888.5" y="56.5" font-size="10.6" fill="#fff" text-anchor="middle" font-family='"Liberation Sans", sans-serif' textLength="144" lengthAdjust="spacingAndGlyphs" xml:space="preserve">Cases by  date of confirmation</text>
<rect x="752.6" y="347" width="289.5" height="12.5" fill="#2c3f47"/>
<path d="M752.6 493.6H1042" stroke="#3a4d55" stroke-width="0.6" stroke-dasharray="1.5 1.5" opacity="0.6"/><path d="M748.5 493.6H752.6" stroke="#5d7078" stroke-width="0.8"/>
<path d="M752.6 459.9H1042" stroke="#3a4d55" stroke-width="0.6" stroke-dasharray="1.5 1.5" opacity="0.6"/><path d="M748.5 459.9H752.6" stroke="#5d7078" stroke-width="0.8"/>
<path d="M752.6 426.2H1042" stroke="#3a4d55" stroke-width="0.6" stroke-dasharray="1.5 1.5" opacity="0.6"/><path d="M748.5 426.2H752.6" stroke="#5d7078" stroke-width="0.8"/>
<path d="M752.6 392.5H1042" stroke="#3a4d55" stroke-width="0.6" stroke-dasharray="1.5 1.5" opacity="0.6"/><path d="M748.5 392.5H752.6" stroke="#5d7078" stroke-width="0.8"/>
<path d="M752.6 358.8H1042" stroke="#3a4d55" stroke-width="0.6" stroke-dasharray="1.5 1.5" opacity="0.6"/><path d="M748.5 358.8H752.6" stroke="#5d7078" stroke-width="0.8"/>
<path d="M799.1 360V493.6" stroke="#3d525b" stroke-width="0.7" stroke-dasharray="1.5 1.8" opacity="0.7"/>
<path d="M845.2 360V493.6" stroke="#3d525b" stroke-width="0.7" stroke-dasharray="1.5 1.8" opacity="0.7"/>
<path d="M891.2 360V493.6" stroke="#3d525b" stroke-width="0.7" stroke-dasharray="1.5 1.8" opacity="0.7"/>
<path d="M937.3 360V493.6" stroke="#3d525b" stroke-width="0.7" stroke-dasharray="1.5 1.8" opacity="0.7"/>
<path d="M983.3 360V493.6" stroke="#3d525b" stroke-width="0.7" stroke-dasharray="1.5 1.8" opacity="0.7"/>
<path d="M1029.3 360V493.6" stroke="#3d525b" stroke-width="0.7" stroke-dasharray="1.5 1.8" opacity="0.7"/>
<path d="M752.6 360V493.6H1042.5" stroke="#6d8088" stroke-width="0.8" fill="none"/>
<path d="M754.00 493.6V388.5h9.7V493.6ZM765.51 493.6V404.0h9.7V493.6ZM777.02 493.6V433.6h9.7V493.6ZM788.53 493.6V442.4h9.7V493.6ZM800.04 493.6V444.4h9.7V493.6ZM811.55 493.6V454.5h9.7V493.6ZM823.06 493.6V458.6h9.7V493.6ZM834.57 493.6V463.9h9.7V493.6ZM846.08 493.6V476.8h9.7V493.6ZM857.59 493.6V479.4h9.7V493.6ZM869.10 493.6V480.1h9.7V493.6ZM880.61 493.6V480.8h9.7V493.6ZM892.12 493.6V481.5h9.7V493.6ZM903.63 493.6V483.5h9.7V493.6ZM915.14 493.6V483.5h9.7V493.6ZM926.65 493.6V483.5h9.7V493.6ZM938.16 493.6V486.2h9.7V493.6ZM949.67 493.6V488.2h9.7V493.6ZM961.18 493.6V488.2h9.7V493.6ZM972.69 493.6V490.2h9.7V493.6ZM984.20 493.6V490.9h9.7V493.6ZM995.71 493.6V492.3h9.7V493.6ZM1007.22 493.6V492.4h9.7V493.6ZM1018.73 493.6V492.4h9.7V493.6Z" fill="#6fe0ac"/>
<path d="M1030.24 493.6v-1.4h9.7V493.6Z" fill="#e8d44d"/>
<g font-size="6.6" font-weight="700" fill="#fff" text-anchor="middle" font-family='"Liberation Sans", sans-serif'>
<text x="758.9" y="386.3">156</text>
<text x="770.4" y="401.8">133</text>
<text x="781.9" y="431.4">89</text>
<text x="793.4" y="440.2">76</text>
<text x="804.9" y="442.2">73</text>
<text x="816.4" y="452.3">58</text>
<text x="827.9" y="456.4">52</text>
<text x="839.4" y="461.7">44</text>
<text x="850.9" y="474.6">25</text>
<text x="862.4" y="477.2">21</text>
<text x="874.0" y="477.9">20</text>
<text x="885.5" y="478.6">19</text>
<text x="897.0" y="479.3">18</text>
<text x="908.5" y="481.3">15</text>
<text x="920.0" y="481.3">15</text>
<text x="931.5" y="481.3">15</text>
<text x="943.0" y="484.0">11</text>
<text x="954.5" y="486.0">8</text>
<text x="966.0" y="486.0">8</text>
<text x="977.5" y="488.0">5</text>
<text x="989.1" y="488.7">4</text>
<text x="1000.6" y="490.1">2</text>
<text x="1012.1" y="490.2">1</text>
<text x="1023.6" y="490.2">1</text>
<text x="1035.1" y="490.2">1</text>
</g>
<g font-size="6.6" font-weight="700" fill="#f2f2f2" text-anchor="end" font-family='"Liberation Sans", sans-serif'>
<text x="743.8" y="496.0">0</text>
<text x="743.8" y="462.3">50</text>
<text x="743.8" y="428.6">100</text>
<text x="743.8" y="394.9">150</text>
<text x="743.8" y="361.2">200</text>
</g>
<g font-size="6.3" font-weight="700" fill="#f2f2f2" text-anchor="end" font-family='"Liberation Sans", sans-serif'>
<text transform="translate(762.4 503.5) rotate(-30)">El Meten</text>
<path d="M758.9 493.6v3" stroke="#5d7078" stroke-width="0.7"/>
<text transform="translate(808.4 503.5) rotate(-30)">Bcharre</text>
<path d="M804.9 493.6v3" stroke="#5d7078" stroke-width="0.7"/>
<text transform="translate(854.4 503.5) rotate(-30)">Aley</text>
<path d="M850.9 493.6v3" stroke="#5d7078" stroke-width="0.7"/>
<text transform="translate(900.5 503.5) rotate(-30)">El Minieh-Dennie</text>
<path d="M897.0 493.6v3" stroke="#5d7078" stroke-width="0.7"/>
<text transform="translate(946.5 503.5) rotate(-30)">Zahle</text>
<path d="M943.0 493.6v3" stroke="#5d7078" stroke-width="0.7"/>
<text transform="translate(992.6 503.5) rotate(-30)">Bent Jbeil</text>
<path d="M989.1 493.6v3" stroke="#5d7078" stroke-width="0.7"/>
<text transform="translate(1038.6 503.5) rotate(-30)">Under Investigation</text>
<path d="M1035.1 493.6v3" stroke="#5d7078" stroke-width="0.7"/>
</g>
<text x="898" y="550" font-size="7.2" font-weight="700" fill="#fff" text-anchor="middle" font-family='"Liberation Sans", sans-serif'>Districts</text>
<text x="888.5" y="323.8" font-size="10.6" fill="#fff" text-anchor="middle" font-family='"Liberation Sans", sans-serif' textLength="143.5" lengthAdjust="spacingAndGlyphs">Cases by District of Residence</text>
<circle cx="750.5" cy="84.3" r="6.8" fill="#fff"/><path d="M749.4 81.3V87.3M751.6 81.3V87.3" stroke="#c9b9b0" stroke-width="0.8"/>
<circle cx="1041.7" cy="84.3" r="6.8" fill="#fff"/><path d="M1040.6000000000001 81.3V87.3M1042.8 81.3V87.3" stroke="#c9b9b0" stroke-width="0.8"/>
<circle cx="752.6" cy="352.9" r="6.8" fill="#fff"/><path d="M751.5 349.9V355.9M753.7 349.9V355.9" stroke="#c9b9b0" stroke-width="0.8"/>
<circle cx="1041.7" cy="352.9" r="6.8" fill="#fff"/><path d="M1040.6000000000001 349.9V355.9M1042.8 349.9V355.9" stroke="#c9b9b0" stroke-width="0.8"/>
</svg>
<div class="p" style="left:721px;top:278px;width:122px;height:20.3px;border-bottom:2px solid #3f7fc0"></div>
<div class="p" style="left:847.4px;top:278.5px;width:134.2px;height:18.8px;background:#2a506a;border:1px solid #26475c;border-top:none"></div>
<div class="t" style="left:782px;top:282.5px;font-size:9.35px;transform:translateX(-50%);-webkit-text-stroke:0.25px #fff">Number of cases per day</div>
<div class="t" style="left:914.5px;top:282.5px;font-size:9.25px;transform:translateX(-50%);-webkit-text-stroke:0.25px #fff">Cumulative number of cases</div>
<svg width="1068" height="567" viewBox="0 0 1068 567">
<g fill="#2f6e4c"><path d="M324 517.8L327.5 521.5L325.8 521.6L331.5 526.2L328.8 526.4L336.5 532L333 532.3L341.5 538.6L337 538.9L342.3 544.3L336 543.6L337.5 546.5H326.5V552.2H321.8V546.5H310.5L312 543.6L305.9 544.3L311.2 538.9L306.8 538.6L315.2 532.3L311.6 532L319.4 526.4L316.6 526.2L322.3 521.6L320.6 521.5Z"/></g>
<ellipse cx="323.2" cy="533.6" rx="10" ry="9" fill="none" stroke="#a9dcb0" stroke-width="2.1" transform="rotate(-25 323.2 533.6)"/>
<g fill="#eef6ea"><path d="M317.6 552.2L318.6 541L316.2 533.2L317.4 532.8L319.6 538.2L320.6 538.2L320.3 531.8L321.5 531.7L322.6 538L323.4 552.2Z"/><circle cx="319.9" cy="536.2" r="1.2"/><path d="M322.6 552.2L323.2 538.5L321.6 529.6L322.9 529.3L324.4 535.4L325.3 535.4L326.2 529.4L327.5 529.7L326.6 538.5L327.6 552.2Z"/><circle cx="324.8" cy="533" r="1.3"/><path d="M326.8 552.2L327.4 541.5L327.2 534.4L328.3 534.3L329 538.6L329.8 538.6L331.4 533.4L332.5 533.8L330.9 541.5L331.4 552.2Z"/></g>
<text transform="translate(350.7 537.4) scale(0.5 1)" font-size="13.7" font-weight="700" fill="#2e6a48" stroke="#2e6a48" stroke-width="0.9" font-family='"Liberation Sans", sans-serif' textLength="213.2" lengthAdjust="spacing">REPUBLIC OF LEBANON</text>
<text x="350.7" y="552.2" font-size="13.7" font-weight="700" fill="#da392d" stroke="#da392d" stroke-width="0.5" font-family='"Liberation Sans", sans-serif' textLength="106.8" lengthAdjust="spacingAndGlyphs">MINISTRY OF PUBLIC HEALTH</text>
<rect x="458.6" y="514.2" width="107.1" height="44.5" fill="#3c8ed8"/>
<g fill="none" stroke="#fff"><circle cx="480.8" cy="531.6" r="8.4" stroke-width="1.2" fill="#8dbdea"/><path d="M472.4 531.6H489.2M474.6 526.2C478.4 528.6 483.2 528.6 487 526.2M474.6 537C478.4 534.6 483.2 534.6 487 537M473 528.8H488.6M473 534.4H488.6" stroke-width="0.7"/><ellipse cx="480.8" cy="531.6" rx="4" ry="8.4" stroke-width="0.7"/><ellipse cx="480.8" cy="531.6" rx="6.6" ry="8.4" stroke-width="0.6"/>
<path d="M469.3 521.5C462.8 529 464 541.5 474.5 546M492.3 521.5C498.8 529 497.6 541.5 487.1 546" stroke-width="3" stroke-dasharray="2.4 0.9" opacity="0.92"/><path d="M474.5 546.6C478 544.6 483.6 544.6 487.1 546.6" stroke-width="1"/></g>
<path d="M480.8 518.8V545.4" stroke="#fff" stroke-width="1.5"/><path d="M479 524C483 525.5 478.6 528 482.6 529.5S478.6 533.5 482.6 535" stroke="#fff" stroke-width="0.9" fill="none"/>
<g font-family='"Liberation Sans", sans-serif' font-weight="700" fill="#fff"><text x="501.6" y="531.7" font-size="9.4" textLength="57.9" lengthAdjust="spacingAndGlyphs">World Health</text><text x="501.6" y="541.8" font-size="9.5" textLength="57.9" lengthAdjust="spacingAndGlyphs">Organization</text><text x="501.6" y="554.2" font-size="6.6" textLength="27.6" lengthAdjust="spacingAndGlyphs">Lebanon</text></g>
<path d="M501.6 546.2H560" stroke="#fff" stroke-width="0.9"/>
<circle cx="582.7" cy="533" r="10.4" fill="#26343c" stroke="#55656b" stroke-width="0.9"/>
<g fill="#8cc63f"><path d="M575.6 527.2l4.2-2.6 1 3.7-3.6 2.6zM581.8 524.2l4.2.3.8 3.6-4.2.6zM577.2 532.4l4-2.1 1.2 3.8-3.8 2.1zM583.4 529.6l4.2-.6 1.2 3.7-4.2 1.2zM579.8 538.2l3.6-1.9 1.8 3.2-3.1 1.6zM585.8 535.2l3.8-1.3.2 3.6-2.5 2.3z"/></g>
<g fill="#4a8ad0"><path d="M573.6 531.8l2.4-1.2 1.4 3.6-2.2 1.5zM588 526.4l2.7 1.7.8 3.1-2.5.3zM576.4 537.4l2.2-1.3 1.8 3.1-1.5.9z"/></g><g fill="#e8f0f0"><path d="M579.6 524.2l1.6-.6.4 1.6-1.4.8zM586.6 531.8l1.2-.2.5 1.6-1.3.4zM581.4 534.6l1.4-.6.5 1.4-1.3.6z"/></g>
<g font-family='"Liberation Sans", sans-serif' fill="#fff"><text x="594.6" y="538.9" font-size="20.2" font-weight="700" textLength="35.6" lengthAdjust="spacingAndGlyphs">esri</text><text x="637.5" y="538.9" font-size="14.6" textLength="57.3" lengthAdjust="spacingAndGlyphs">Lebanon</text><text x="596.2" y="547.1" font-size="5" font-weight="700" textLength="54.6" lengthAdjust="spacingAndGlyphs">THE SCIENCE OF WHERE</text></g>
</svg></body></html>
